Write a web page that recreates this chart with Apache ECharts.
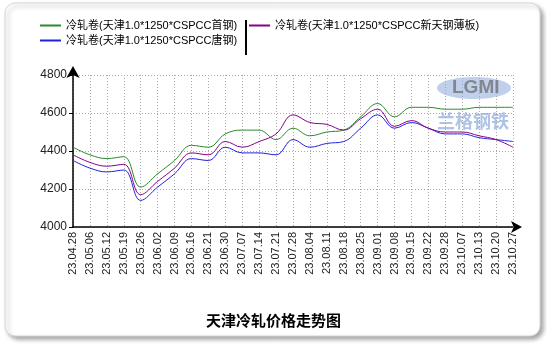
<!DOCTYPE html>
<html>
<head>
<meta charset="utf-8">
<script src="https://cdn.jsdelivr.net/npm/echarts@6/dist/echarts.min.js"></script>
<style>
html,body{margin:0;padding:0;background:#fff;}
#chart{width:547px;height:345px;}
</style>
</head>
<body>
<div id="chart"></div>
<script>
var categories = ['23.04.28','23.05.06','23.05.12','23.05.19','23.05.26','23.06.02','23.06.09','23.06.16','23.06.21','23.06.30','23.07.07','23.07.14','23.07.21','23.07.28','23.08.04','23.08.11','23.08.18','23.08.25','23.09.01','23.09.08','23.09.15','23.09.22','23.09.28','23.10.07','23.10.13','23.10.20','23.10.27'];
var shougang = [4420,4380,4360,4370,4210,4280,4350,4430,4420,4490,4510,4510,4460,4520,4480,4500,4510,4580,4650,4580,4630,4630,4620,4620,4630,4630,4630];
var tanggang = [4350,4310,4290,4300,4140,4210,4280,4360,4350,4420,4390,4390,4380,4460,4420,4440,4450,4520,4590,4520,4550,4520,4490,4490,4470,4460,4450];
var xintiangang = [4380,4340,4320,4330,4170,4240,4310,4390,4380,4450,4420,4450,4490,4590,4550,4540,4510,4570,4620,4530,4560,4520,4500,4500,4480,4460,4420];
var seriesNames = ['冷轧卷(天津1.0*1250*CSPCC首钢)','冷轧卷(天津1.0*1250*CSPCC唐钢)','冷轧卷(天津1.0*1250*CSPCC新天钢薄板)'];
var yTicks = {min: 4000, max: 4800, interval: 200};
var titleText = '天津冷轧价格走势图';

var chart = echarts.init(document.getElementById('chart'), null, {renderer: 'canvas'});
var legendText = {fontSize: 11, color: '#000', fontFamily: '"Liberation Sans", "Noto Sans CJK SC", sans-serif', lineHeight: 13};
function mk(name, data, color) {
  return {
    name: name, type: 'line', data: data, smooth: 0.4, symbol: 'none',
    lineStyle: {color: color, width: 1}, itemStyle: {color: color}
  };
}
chart.setOption({
  animation: false,
  backgroundColor: '#fff',
  title: {
    text: titleText, left: 'center', top: 308,
    textStyle: {fontSize: 15, fontWeight: 'bold', color: '#000', fontFamily: '"Noto Sans CJK SC", sans-serif'}
  },
  legend: [{
    data: [seriesNames[0], seriesNames[1]], orient: 'vertical', left: 40, top: 19,
    itemWidth: 21, itemHeight: 2, itemGap: 2, icon: 'rect', textStyle: legendText,
    padding: 0
  }, {
    data: [seriesNames[2]], orient: 'vertical', left: 249, top: 19,
    itemWidth: 21, itemHeight: 2, itemGap: 2, icon: 'rect', textStyle: legendText,
    padding: 0
  }],
  grid: {left: 73, right: 34, top: 75, bottom: 118, containLabel: false},
  xAxis: {
    type: 'category', data: categories, boundaryGap: false,
    axisLine: {show: true, lineStyle: {color: '#000', width: 1.5}, symbol: ['none', 'arrow'], symbolSize: [9, 11], symbolOffset: [0, 9]},
    axisTick: {show: false},
    axisLabel: {rotate: 90, interval: 0, fontSize: 11, color: '#222', margin: 5, fontFamily: '"Liberation Sans", Arial, sans-serif'},
    splitLine: {show: true, lineStyle: {color: '#aaa', type: [1, 2], width: 1}}
  },
  yAxis: {
    type: 'value', min: yTicks.min, max: yTicks.max, interval: yTicks.interval,
    axisLine: {show: true, lineStyle: {color: '#000', width: 1.5}, symbol: ['none', 'arrow'], symbolSize: [10, 12], symbolOffset: [0, 9]},
    axisTick: {show: true, length: 4, lineStyle: {color: '#000'}},
    axisLabel: {fontSize: 12, color: '#222', margin: 6, fontFamily: '"Liberation Sans", Arial, sans-serif',
      formatter: function (v) { return String(v); }},
    splitLine: {show: true, lineStyle: {color: '#aaa', type: [1, 2], width: 1}}
  },
  series: [
    mk(seriesNames[0], shougang, '#2a8a2a'),
    mk(seriesNames[1], tanggang, '#2020e0'),
    mk(seriesNames[2], xintiangang, '#880088')
  ],
  graphic: [
    {type: 'rect', z: -100, silent: true,
     shape: {x: 5, y: 3, width: 535, height: 333, r: 10},
     style: {fill: '#fff', stroke: '#d6d6d6', lineWidth: 1, shadowBlur: 4, shadowOffsetX: 3, shadowOffsetY: 3, shadowColor: 'rgba(0,0,0,0.35)'}},
    {type: 'line', z: 10, silent: true,
     shape: {x1: 246, y1: 20, x2: 246, y2: 55},
     style: {stroke: '#000', lineWidth: 2}},
    {type: 'ellipse', z: 10, silent: true,
     shape: {cx: 474, cy: 88, rx: 37, ry: 11},
     style: {fill: 'rgba(140,170,220,0.55)'}},
    {type: 'text', z: 11, silent: true, left: 452, top: 78,
     style: {text: 'LGMI', fill: 'rgba(110,110,110,0.75)', font: 'bold 19px "Liberation Sans", sans-serif'}},
    {type: 'text', z: 11, silent: true, left: 437, top: 112,
     style: {text: '兰格钢铁', fill: 'rgba(140,170,220,0.7)', font: 'bold 18px "Noto Sans CJK SC", sans-serif'}}
  ]
});
</script>
</body>
</html>
